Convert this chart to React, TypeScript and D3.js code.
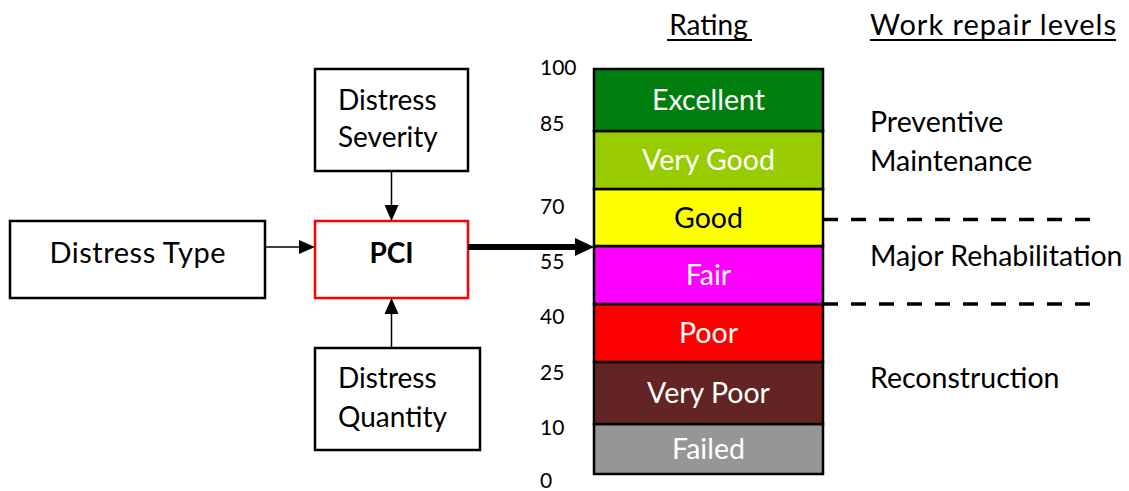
import React from "react";
import * as d3 from "d3";

// rating bands, bottom to top
const ratingBreaks = [0, 10, 25, 40, 55, 70, 85, 100];
const ratingNames = ["Failed", "Very Poor", "Poor", "Fair", "Good", "Very Good", "Excellent"];
const ratingColors = ["#969696", "#632523", "#ff0000", "#ff00ff", "#ffff00", "#99cc00", "#007f0e"];
const ratingTextColors = ["#fff", "#fff", "#fff", "#fff", "#000", "#fff", "#fff"];

// repair levels, top to bottom
const repairNames = [["Preventive", "Maintenance"], ["Major Rehabilitation"], ["Reconstruction"]];
const repairCuts = [100, 62, 40, 0];

const inputNames = ["Distress Type", "Distress Severity", "Distress Quantity"];
const pciValue = 55;

const FONT = "Lato, 'Open Sans', sans-serif";

const Arrow = ({ x1, y1, x2, y2, w = 1.5, head = 16, half = 7 }) => {
  const a = Math.atan2(y2 - y1, x2 - x1);
  const bx = x2 - head * Math.cos(a);
  const by = y2 - head * Math.sin(a);
  const px = -Math.sin(a) * half;
  const py = Math.cos(a) * half;
  return (
    <g>
      <line x1={x1} y1={y1} x2={bx + Math.cos(a)} y2={by + Math.sin(a)} stroke="#000" strokeWidth={w} />
      <path d={`M${x2},${y2}L${bx + px},${by + py}L${bx - px},${by - py}Z`} fill="#000" />
    </g>
  );
};

export default function App() {
  const width = 1129;
  const height = 491;

  // bands are not all the same height in the source, so piecewise
  const y = d3.scaleLinear().domain(ratingBreaks).range([474, 424, 362, 304, 246, 189, 131, 69]);
  const tickY = d3.scaleLinear().domain(ratingBreaks).range([488, 435, 380, 324, 269, 214, 131, 75]);
  const barX = 594;
  const barW = 229;

  const bands = ratingNames.map((name, i) => ({
    name,
    lo: ratingBreaks[i],
    hi: ratingBreaks[i + 1],
    color: ratingColors[i],
    textColor: ratingTextColors[i],
  }));

  const levels = repairNames.map((lines, i) => ({ lines, hi: repairCuts[i], lo: repairCuts[i + 1] }));

  const typeBox = { x: 10, y: 221, w: 255, h: 77 };
  const pciBox = { x: 315, y: 221, w: 153, h: 77 };
  const sevBox = { x: 315, y: 69, w: 153, h: 102 };
  const qtyBox = { x: 315, y: 348, w: 165, h: 102 };
  const arrowY = y(pciValue) + 1;
  const pciCx = pciBox.x + pciBox.w / 2;

  return (
    <svg width={width} height={height} style={{ position: "absolute", left: 0, top: 0, background: "#fff" }} fontFamily={FONT}>
      {/* flow boxes */}
      <rect x={typeBox.x} y={typeBox.y} width={typeBox.w} height={typeBox.h} fill="#fff" stroke="#000" strokeWidth={2.5} />
      <text x={typeBox.x + typeBox.w / 2} y={263} textAnchor="middle" fontSize={29} textLength={176} lengthAdjust="spacing">{inputNames[0]}</text>

      <rect x={sevBox.x} y={sevBox.y} width={sevBox.w} height={sevBox.h} fill="#fff" stroke="#000" strokeWidth={2.5} />
      {inputNames[1].split(" ").map((t, i) => (
        <text key={t} x={338} y={110 + i * 37} fontSize={28}>{t}</text>
      ))}

      <rect x={qtyBox.x} y={qtyBox.y} width={qtyBox.w} height={qtyBox.h} fill="#fff" stroke="#000" strokeWidth={2.5} />
      {inputNames[2].split(" ").map((t, i) => (
        <text key={t} x={338} y={388 + i * 39} fontSize={28}>{t}</text>
      ))}

      <rect x={pciBox.x} y={pciBox.y} width={pciBox.w} height={pciBox.h} fill="#fff" stroke="#ff0000" strokeWidth={2.5} />
      <text x={pciCx} y={263} textAnchor="middle" fontSize={28} fontWeight="bold">PCI</text>

      <Arrow x1={typeBox.x + typeBox.w} y1={arrowY} x2={pciBox.x} y2={arrowY} />
      <Arrow x1={pciCx} y1={sevBox.y + sevBox.h} x2={pciCx} y2={pciBox.y} />
      <Arrow x1={pciCx} y1={qtyBox.y} x2={pciCx} y2={pciBox.y + pciBox.h} />
      <Arrow x1={pciBox.x + pciBox.w} y1={arrowY} x2={barX} y2={arrowY} w={6} head={19} half={9} />

      {/* headers */}
      <text x={barX + barW / 2} y={35} textAnchor="middle" fontSize={28}>Rating</text>
      <line x1={667} x2={752} y1={40} y2={40} stroke="#000" strokeWidth={2} />
      <text x={870} y={35} fontSize={29} textLength={246} lengthAdjust="spacing">Work repair levels</text>
      <line x1={870} x2={1116} y1={40} y2={40} stroke="#000" strokeWidth={2} />

      {/* rating bar */}
      {bands.map((b) => (
        <g key={b.name}>
          <rect x={barX} y={y(b.hi)} width={barW} height={y(b.lo) - y(b.hi)} fill={b.color} stroke="#000" strokeWidth={2.5} />
          <text x={barX + barW / 2} y={(y(b.lo) + y(b.hi)) / 2 + 10} textAnchor="middle" fontSize={28.5} fill={b.textColor}>{b.name}</text>
        </g>
      ))}
      {ratingBreaks.map((v) => (
        <text key={v} x={540} y={tickY(v)} fontSize={21}>{v}</text>
      ))}

      {/* repair levels */}
      {repairCuts.slice(1, -1).map((v) => (
        <line key={v} x1={barX + barW} x2={1090} y1={y(v)} y2={y(v)} stroke="#000" strokeWidth={3.5} strokeDasharray="15 13" />
      ))}
      {levels.map((l) => {
        const cy = y((l.hi + l.lo) / 2) + 5;
        return l.lines.map((t, i) => (
          <text key={t} x={870} y={cy + (i - (l.lines.length - 1) / 2) * 39} fontSize={28.5}>{t}</text>
        ));
      })}
    </svg>
  );
}
